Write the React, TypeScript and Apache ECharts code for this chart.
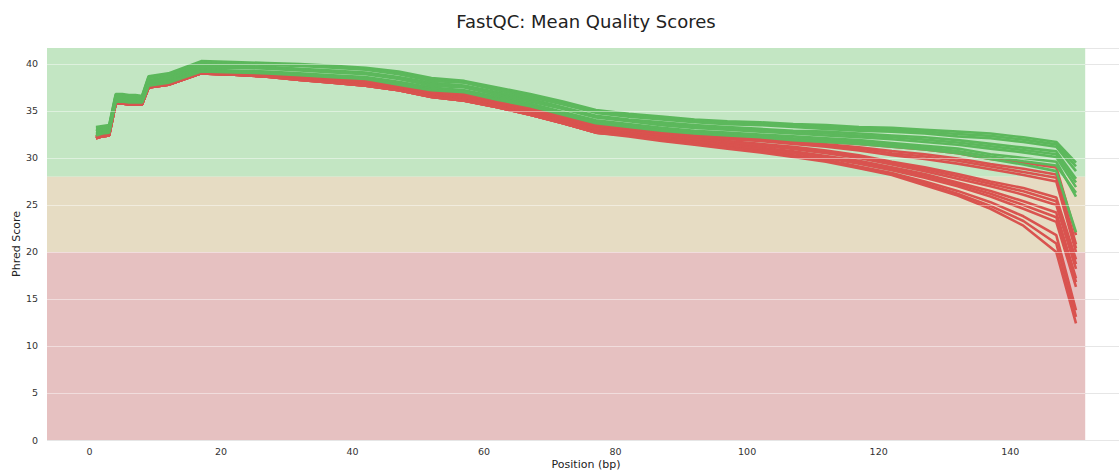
import React, { useEffect, useRef } from 'react';
import * as echarts from 'echarts';

// Base positions (bp) of the FastQC groups
const positions = [1, 2, 3, 4, 5, 6, 7, 8, 9, 12, 17, 22, 27, 32, 37, 42, 47, 52, 57, 62, 67, 72, 77, 82, 87, 92, 97, 102, 107, 112, 117, 122, 127, 132, 137, 142, 147, 150];

// Samples that pass (green)
const green1 = [33.3, 33.4, 33.5, 36.8, 36.8, 36.7, 36.7, 36.6, 38.7, 39.0, 40.3, 40.2, 40.1, 40.0, 39.8, 39.6, 39.2, 38.5, 38.2, 37.5, 36.8, 36.0, 35.1, 34.7, 34.4, 34.1, 33.9, 33.8, 33.6, 33.5, 33.3, 33.2, 33.0, 32.8, 32.6, 32.2, 31.7, 29.5];
const green7 = [33.2, 33.3, 33.4, 36.7, 36.7, 36.6, 36.6, 36.55, 38.6, 38.9, 40.2, 40.1, 40.0, 39.9, 39.7, 39.5, 39.05, 38.35, 38.1, 37.35, 36.65, 35.85, 34.95, 34.55, 34.25, 33.95, 33.75, 33.65, 33.45, 33.3, 33.1, 33.0, 32.8, 32.55, 32.35, 31.95, 31.45, 29.1];
const green2 = [33.1, 33.2, 33.3, 36.6, 36.6, 36.5, 36.5, 36.5, 38.5, 38.8, 40.1, 40.0, 39.9, 39.8, 39.6, 39.4, 38.9, 38.2, 38.0, 37.2, 36.5, 35.7, 34.8, 34.4, 34.1, 33.8, 33.6, 33.5, 33.3, 33.1, 32.9, 32.8, 32.6, 32.3, 32.1, 31.7, 31.2, 28.6];
const green3 = [32.9, 33.1, 33.2, 36.5, 36.5, 36.4, 36.4, 36.3, 38.3, 38.6, 39.9, 39.8, 39.7, 39.5, 39.3, 39.1, 38.6, 38.0, 37.7, 37.0, 36.3, 35.4, 34.5, 34.1, 33.8, 33.5, 33.3, 33.1, 32.9, 32.8, 32.6, 32.4, 32.2, 31.9, 31.5, 31.1, 30.7, 27.8];
const green8 = [32.85, 33.0, 33.1, 36.4, 36.4, 36.3, 36.3, 36.25, 38.2, 38.5, 39.75, 39.7, 39.6, 39.4, 39.2, 39.0, 38.5, 37.85, 37.6, 36.85, 36.15, 35.3, 34.4, 34.0, 33.65, 33.35, 33.15, 32.95, 32.75, 32.6, 32.4, 32.2, 31.95, 31.65, 31.25, 30.85, 30.4, 27.4];
const green4 = [32.8, 32.9, 33.0, 36.3, 36.3, 36.2, 36.2, 36.2, 38.1, 38.4, 39.6, 39.6, 39.5, 39.3, 39.1, 38.9, 38.4, 37.7, 37.5, 36.7, 36.0, 35.2, 34.3, 33.9, 33.5, 33.2, 33.0, 32.8, 32.6, 32.4, 32.2, 32.0, 31.7, 31.4, 31.0, 30.6, 30.1, 26.9];
const green5 = [32.6, 32.8, 32.9, 36.2, 36.2, 36.1, 36.1, 36.0, 37.9, 38.2, 39.4, 39.3, 39.2, 39.0, 38.8, 38.6, 38.1, 37.5, 37.2, 36.5, 35.8, 34.9, 34.0, 33.6, 33.2, 32.9, 32.7, 32.5, 32.3, 32.1, 31.9, 31.6, 31.3, 31.0, 30.4, 30.0, 29.6, 25.9];
const green9 = [32.5, 32.7, 32.8, 36.1, 36.1, 36.0, 36.0, 35.95, 37.8, 38.1, 39.3, 39.2, 39.1, 38.9, 38.7, 38.5, 37.95, 37.35, 37.1, 36.35, 35.65, 34.75, 33.85, 33.45, 33.05, 32.75, 32.55, 32.35, 32.1, 31.9, 31.7, 31.4, 31.1, 30.75, 30.15, 29.65, 29.2, 26.3];
const green6 = [32.4, 32.6, 32.7, 36.0, 36.0, 35.9, 35.9, 35.9, 37.7, 38.0, 39.2, 39.1, 39.0, 38.8, 38.6, 38.4, 37.8, 37.2, 37.0, 36.2, 35.5, 34.6, 33.7, 33.3, 32.9, 32.6, 32.4, 32.2, 31.9, 31.7, 31.5, 31.2, 30.9, 30.5, 29.9, 29.3, 28.6, 22.1];

// Samples that fail (red)
const red1 = [32.3, 32.5, 32.6, 35.9, 35.9, 35.8, 35.8, 35.8, 37.6, 37.9, 39.1, 39.0, 38.9, 38.7, 38.5, 38.3, 37.7, 37.1, 36.9, 36.1, 35.4, 34.5, 33.6, 33.3, 32.9, 32.6, 32.4, 32.2, 31.9, 31.7, 31.5, 31.2, 30.9, 30.5, 29.9, 29.5, 29.0, 21.8];
const red2 = [32.3, 32.5, 32.6, 35.9, 35.9, 35.8, 35.8, 35.8, 37.6, 37.9, 39.1, 39.0, 38.85, 38.65, 38.45, 38.2, 37.6, 37.0, 36.8, 36.0, 35.3, 34.4, 33.5, 33.15, 32.75, 32.4, 32.2, 32.0, 31.7, 31.45, 31.15, 30.75, 30.4, 29.95, 29.35, 28.85, 28.25, 20.8];
const red13 = [32.3, 32.5, 32.6, 35.9, 35.9, 35.8, 35.8, 35.8, 37.6, 37.9, 39.1, 39.0, 38.85, 38.6, 38.4, 38.15, 37.55, 36.95, 36.75, 35.95, 35.25, 34.35, 33.45, 33.1, 32.7, 32.3, 32.1, 31.9, 31.6, 31.3, 31.0, 30.5, 30.15, 29.7, 29.1, 28.5, 27.9, 20.4];
const red3 = [32.25, 32.45, 32.55, 35.85, 35.85, 35.8, 35.8, 35.75, 37.6, 37.9, 39.05, 38.95, 38.8, 38.6, 38.4, 38.1, 37.5, 36.9, 36.7, 35.9, 35.2, 34.3, 33.4, 33.0, 32.6, 32.2, 32.0, 31.8, 31.5, 31.2, 30.8, 30.3, 29.9, 29.4, 28.8, 28.2, 27.5, 20.0];
const red4 = [32.2, 32.4, 32.5, 35.85, 35.85, 35.75, 35.75, 35.75, 37.55, 37.85, 39.05, 38.9, 38.8, 38.5, 38.25, 38.0, 37.45, 36.8, 36.5, 35.8, 35.0, 34.1, 33.2, 32.9, 32.5, 32.1, 31.8, 31.5, 31.2, 30.8, 30.3, 29.6, 29.0, 28.3, 27.5, 26.8, 25.8, 19.2];
const red10 = [32.2, 32.4, 32.5, 35.85, 35.85, 35.75, 35.75, 35.7, 37.55, 37.85, 39.05, 38.9, 38.8, 38.5, 38.2, 37.95, 37.4, 36.75, 36.45, 35.75, 34.95, 34.05, 33.15, 32.85, 32.4, 32.0, 31.7, 31.4, 31.1, 30.65, 30.15, 29.45, 28.8, 28.05, 27.25, 26.45, 25.4, 18.7];
const red5 = [32.2, 32.4, 32.5, 35.8, 35.8, 35.75, 35.75, 35.7, 37.55, 37.85, 39.05, 38.9, 38.75, 38.45, 38.2, 37.9, 37.4, 36.7, 36.4, 35.7, 34.9, 34.0, 33.1, 32.8, 32.35, 31.95, 31.6, 31.3, 30.95, 30.5, 30.0, 29.3, 28.6, 27.8, 27.0, 26.1, 25.0, 18.2];
const red6 = [32.15, 32.35, 32.45, 35.8, 35.8, 35.7, 35.7, 35.7, 37.5, 37.8, 39.0, 38.85, 38.7, 38.4, 38.1, 37.8, 37.3, 36.6, 36.3, 35.6, 34.8, 33.9, 32.9, 32.65, 32.2, 31.8, 31.45, 31.1, 30.7, 30.2, 29.7, 29.0, 28.3, 27.4, 26.5, 25.4, 24.2, 17.2];
const red11 = [32.1, 32.3, 32.4, 35.8, 35.8, 35.7, 35.7, 35.7, 37.5, 37.8, 39.0, 38.85, 38.7, 38.35, 38.05, 37.75, 37.25, 36.55, 36.2, 35.5, 34.7, 33.8, 32.8, 32.6, 32.15, 31.75, 31.4, 31.0, 30.6, 30.1, 29.55, 28.85, 28.1, 27.2, 26.2, 25.0, 23.7, 16.8];
const red7 = [32.1, 32.3, 32.4, 35.8, 35.8, 35.7, 35.7, 35.7, 37.5, 37.8, 39.0, 38.85, 38.65, 38.3, 38.0, 37.7, 37.2, 36.5, 36.1, 35.4, 34.6, 33.7, 32.7, 32.55, 32.1, 31.7, 31.3, 30.9, 30.5, 30.0, 29.4, 28.7, 27.9, 27.0, 25.9, 24.6, 23.2, 16.3];
const red8 = [32.1, 32.3, 32.4, 35.8, 35.8, 35.7, 35.7, 35.7, 37.5, 37.8, 39.0, 38.85, 38.65, 38.3, 38.0, 37.7, 37.2, 36.5, 36.1, 35.4, 34.6, 33.7, 32.7, 32.45, 31.95, 31.55, 31.15, 30.75, 30.3, 29.8, 29.1, 28.4, 27.5, 26.5, 25.3, 23.8, 21.8, 13.8];
const red12 = [32.1, 32.3, 32.4, 35.8, 35.8, 35.7, 35.7, 35.7, 37.5, 37.8, 39.0, 38.85, 38.65, 38.3, 38.0, 37.7, 37.2, 36.5, 36.1, 35.4, 34.6, 33.7, 32.7, 32.4, 31.9, 31.5, 31.1, 30.7, 30.2, 29.7, 29.0, 28.3, 27.3, 26.2, 24.9, 23.3, 20.9, 13.1];
const red9 = [32.1, 32.3, 32.4, 35.8, 35.8, 35.7, 35.7, 35.7, 37.5, 37.8, 39.0, 38.85, 38.65, 38.3, 38.0, 37.7, 37.2, 36.5, 36.1, 35.4, 34.6, 33.7, 32.7, 32.3, 31.8, 31.4, 31.0, 30.6, 30.1, 29.6, 28.9, 28.2, 27.1, 26.0, 24.6, 22.8, 20.0, 12.4];

const greenSamples = [green1, green7, green2, green3, green8, green4, green5, green9, green6];
const redSamples = [red1, red2, red13, red3, red4, red10, red5, red6, red11, red7, red8, red12, red9];

const xTickValues = [0, 20, 40, 60, 80, 100, 120, 140];
const yGridValues = [5, 10, 15, 20, 25, 30, 35, 40];

// Quality zones (Phred)
const zoneGoodMin = 28;
const zoneWarnMin = 20;
const X_MIN = -6.45;
const X_MAX = 157.45;
const BAND_END = 151.4;
const Y_MAX = 41.7;

export default function App() {
  const ref = useRef<HTMLDivElement>(null);
  useEffect(() => {
    document.body.style.margin = '0';
    const chart = echarts.init(ref.current!, null, { renderer: 'svg' });
    const font = 'DejaVu Sans';
    const mk = (name: string, vals: number[], color: string) => ({
      name,
      type: 'line',
      data: positions.map((p, i) => [p, vals[i]]),
      showSymbol: false,
      symbol: 'none',
      silent: true,
      z: 3,
      lineStyle: { color, width: 2.6 },
      itemStyle: { color },
    });
    const series: any[] = [
      {
        name: 'zones',
        type: 'line',
        data: [[0, 0]],
        showSymbol: false,
        symbol: 'none',
        silent: true,
        z: 1,
        lineStyle: { opacity: 0 },
        markArea: {
          silent: true,
          data: [
            [{ xAxis: X_MIN, yAxis: zoneGoodMin, itemStyle: { color: '#c3e6c3', opacity: 1 } }, { xAxis: BAND_END, yAxis: Y_MAX }],
            [{ xAxis: X_MIN, yAxis: zoneWarnMin, itemStyle: { color: '#e6dcc3', opacity: 1 } }, { xAxis: BAND_END, yAxis: zoneGoodMin }],
            [{ xAxis: X_MIN, yAxis: 0, itemStyle: { color: '#e6c1c1', opacity: 1 } }, { xAxis: BAND_END, yAxis: zoneWarnMin }],
          ],
        },
        markLine: {
          silent: true,
          symbol: 'none',
          label: { show: false },
          lineStyle: { color: 'rgba(255,255,255,0.45)', width: 1, type: 'solid' },
          data: yGridValues.map((v) => [{ coord: [X_MIN, v] }, { coord: [BAND_END, v] }]),
        },
      },
      ...redSamples.map((s, i) => mk('Fail ' + (i + 1), s, '#d9534f')),
      ...greenSamples.map((s, i) => mk('Pass ' + (i + 1), s, '#5cb85c')),
    ];
    chart.setOption({
      animation: false,
      grid: { left: 47, right: -6, top: 48, bottom: 30, containLabel: false, outerBoundsMode: 'none' },
      xAxis: {
        type: 'value',
        min: X_MIN,
        max: X_MAX,
        axisLine: { show: false },
        axisTick: { show: false },
        splitLine: { show: false },
        axisLabel: {
          customValues: xTickValues,
          margin: 6,
          color: '#333',
          fontFamily: font,
          fontSize: 9.5,
        },
      },
      yAxis: {
        type: 'value',
        min: 0,
        max: Y_MAX,
        interval: 5,
        axisLine: { show: false },
        axisTick: { show: false },
        splitLine: { show: true, lineStyle: { color: '#e6e6e6', width: 1 } },
        axisLabel: {
          margin: 9,
          color: '#333',
          fontFamily: font,
          fontSize: 9.5,
          formatter: (v: number) => (v % 5 === 0 ? String(v) : ''),
        },
      },
      graphic: [
        {
          type: 'text',
          x: 586,
          y: 21,
          style: { text: 'FastQC: Mean Quality Scores', fontFamily: font, fontSize: 18, fill: '#222', textAlign: 'center', textVerticalAlign: 'middle' },
        },
        {
          type: 'text',
          x: 16,
          y: 244,
          rotation: Math.PI / 2,
          style: { text: 'Phred Score', fontFamily: font, fontSize: 11, fill: '#222', textAlign: 'center', textVerticalAlign: 'middle' },
        },
        {
          type: 'text',
          x: 586,
          y: 464,
          style: { text: 'Position (bp)', fontFamily: font, fontSize: 11, fill: '#222', textAlign: 'center', textVerticalAlign: 'middle' },
        },
      ],
      series,
    });
    return () => chart.dispose();
  }, []);
  return <div ref={ref} style={{ width: 1119, height: 470 }} />;
}
